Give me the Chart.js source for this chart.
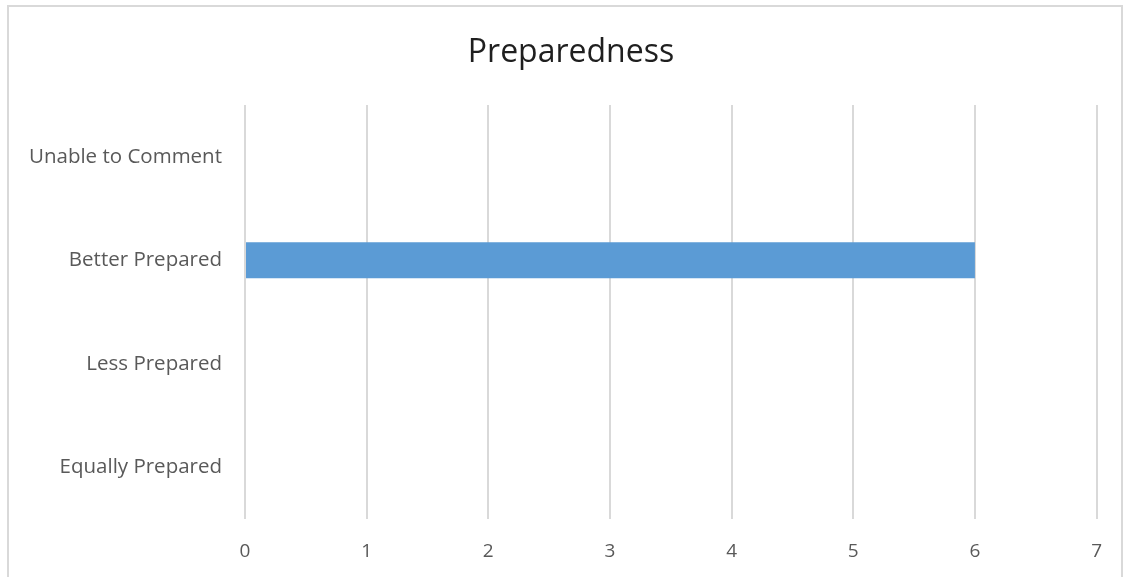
<!DOCTYPE html>
<html>
<head>
<meta charset="utf-8">
<script src="https://cdn.jsdelivr.net/npm/chart.js@4/dist/chart.umd.min.js"></script>
<style>
html, body { margin: 0; padding: 0; background: #fff; overflow: hidden; }
#wrap { position: relative; width: 1123px; height: 577px; }
#frame { position: absolute; left: 7px; top: 5px; width: 1116px; height: 600px; border: 2px solid #d9d9d9; box-sizing: border-box; }
canvas { position: absolute; left: 0; top: 0; }
</style>
</head>
<body>
<div id="wrap">
<div id="frame"></div>
<canvas id="chart" width="1123" height="577"></canvas>
</div>
<script>
const categories = ["Unable to Comment", "Better Prepared", "Less Prepared", "Equally Prepared"];
const values = [0, 6, 0, 0];
const xMin = 0;
const xMax = 7;
const chartTitle = "Preparedness";

const textColor = "#595959";
const gridColor = "#d9d9d9";

/* TITLE (centred on the frame, not the canvas) */
const titlePlugin = {
id: "frameTitle",
afterDraw(chart) {
const ctx = chart.ctx;
ctx.save();
ctx.fillStyle = "#1f1f1f";
ctx.font = "32px 'Open Sans'";
ctx.textAlign = "center";
ctx.textBaseline = "middle";
ctx.fillText(chartTitle, 571, 53);
ctx.restore();
}
};

new Chart(document.getElementById("chart"), {
type: "bar",
data: {
labels: categories,
datasets: [{
label: "",
data: values,
backgroundColor: "#5b9bd5",
borderWidth: 0,
categoryPercentage: 0.5,
barPercentage: 0.7
}]
},
options: {
indexAxis: "y",
responsive: false,
animation: false,
layout: { padding: { left: 0, right: 24, top: 105, bottom: 0 } },
plugins: {
legend: { display: false },
tooltip: { enabled: false },
title: { display: false }
},
scales: {
x: {
min: xMin,
max: xMax,
ticks: { stepSize: 1, color: textColor, font: { family: "Open Sans", size: 19 }, padding: 21 },
grid: { color: gridColor, lineWidth: 2, drawTicks: false },
border: { display: false },
afterFit: (s) => { s.height = 58; }
},
y: {
ticks: { color: textColor, font: { family: "Open Sans", size: 20.5 }, padding: 23 },
grid: { display: false, drawTicks: false },
border: { display: false },
afterFit: (s) => { s.width = 245; }
}
}
},
plugins: [titlePlugin]
});
</script>
</body>
</html>
